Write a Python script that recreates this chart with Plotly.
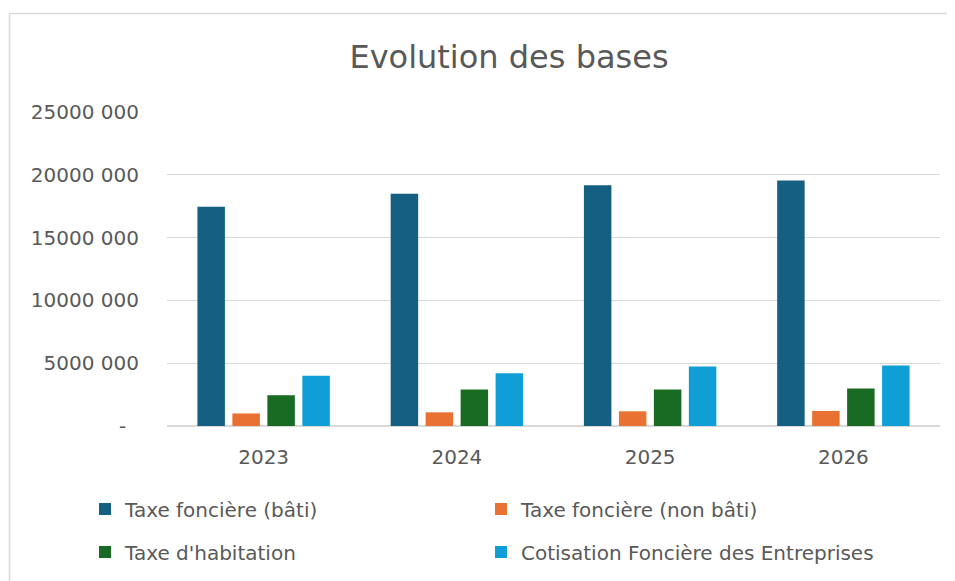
import plotly.graph_objects as go

# ----- data
years = ['2023', '2024', '2025', '2026']
tf_bati = [17460000, 18500000, 19170000, 19540000]
tf_non_bati = [1000000, 1090000, 1170000, 1200000]
taxe_habitation = [2450000, 2900000, 2900000, 2980000]
cfe = [4000000, 4200000, 4740000, 4820000]

series_names = ['Taxe foncière (bâti)', 'Taxe foncière (non bâti)',
                "Taxe d'habitation", 'Cotisation Foncière des Entreprises']
series_values = [tf_bati, tf_non_bati, taxe_habitation, cfe]
series_colors = ['#156082', '#E97132', '#196B24', '#0F9ED5']
series_legend = ['legend', 'legend', 'legend2', 'legend2']

y_tickvals = [0, 5000000, 10000000, 15000000, 20000000, 25000000]
y_ticktext = ['-\u00a0\u00a0', '5000 000', '10000 000', '15000 000', '20000 000', '25000 000']

txt_col = '#595959'
grid_col = '#d9d9d9'
fnt = 'DejaVu Sans'

# page body has an 8px margin, so positions are shifted back by 8px
off = 8
pl, pr, pt, pb = 167 - off, 940 - off, 112 - off, 426 - off
pw, ph = pr - pl, pb - pt

# ----- vis
fig = go.Figure()
for name, vals, col, leg in zip(series_names, series_values, series_colors, series_legend):
    fig.add_trace(go.Bar(x=years, y=vals, name=name, marker_color=col,
                         marker_line_width=0, legend=leg))

leg_common = dict(orientation='h', xanchor='left', yanchor='middle',
                  entrywidth=351, entrywidthmode='pixels',
                  font=dict(family=fnt, size=20, color=txt_col),
                  bgcolor='rgba(0,0,0,0)')

fig.update_layout(
    width=955, height=581,
    margin=dict(l=pl, r=955 - pr, t=pt, b=581 - pb),
    paper_bgcolor='white', plot_bgcolor='white',
    font=dict(family=fnt, size=20, color=txt_col),
    title=dict(text='Evolution des bases', x=(509 - off) / 955, xref='container', xanchor='center',
               y=1 - (57 - off) / 581, yref='container', yanchor='middle',
               font=dict(family=fnt, size=32, color=txt_col)),
    barmode='group', bargap=0.276, bargroupgap=0.214,
    xaxis=dict(showgrid=False, showline=False, ticks='', ticklabelstandoff=17,
               tickfont=dict(size=20, color=txt_col)),
    yaxis=dict(range=[0, 25000000], tickvals=y_tickvals, ticktext=y_ticktext,
               showgrid=True, gridcolor=grid_col, gridwidth=1,
               zeroline=True, zerolinecolor=grid_col, zerolinewidth=1.5,
               showline=False, ticks='', ticklabelstandoff=27,
               tickfont=dict(size=20, color=txt_col)),
    legend=dict(x=(85 - off - pl) / pw, y=(pb - (509 - off)) / ph, **leg_common),
    legend2=dict(x=(85 - off - pl) / pw, y=(pb - (552 - off)) / ph, **leg_common),
    showlegend=True,
)

# chart area border (Excel style): left and top edges only, the rest is off-screen
bx0 = (9.5 - off - pl) / pw
bx1 = (975 - pl) / pw
by0 = (pb - 600) / ph
by1 = (pb - (13.5 - off)) / ph
fig.add_shape(type='path', xref='paper', yref='paper',
              path=f'M {bx0},{by0} L {bx0},{by1} L {bx1},{by1}',
              line=dict(color=grid_col, width=1.5), layer='below')

fig.write_html("out.html")
